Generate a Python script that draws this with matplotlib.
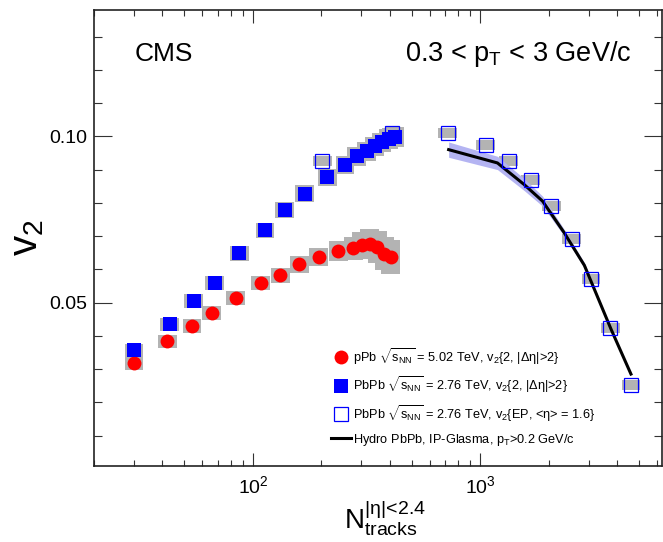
import numpy as np
import matplotlib
matplotlib.use('Agg')
import matplotlib.pyplot as plt
from matplotlib.ticker import FixedLocator, MultipleLocator, LogLocator, NullFormatter

plt.rcParams['font.family'] = ['Liberation Sans', 'DejaVu Sans']
plt.rcParams['mathtext.fontset'] = 'custom'
plt.rcParams['mathtext.rm'] = 'Liberation Sans'
plt.rcParams['mathtext.it'] = 'Liberation Sans'
plt.rcParams['mathtext.bf'] = 'Liberation Sans:bold'
plt.rcParams['mathtext.sf'] = 'Liberation Sans'

# pPb 5.02 TeV, v2{2,|deta|>2}
ppb_n = [30, 42, 54, 66, 84, 108, 132, 160, 195, 237, 276, 301, 327, 353, 378, 404]
ppb_v2 = [0.0318, 0.0383, 0.0430, 0.0469, 0.0513, 0.0559, 0.0582, 0.0615,
          0.0637, 0.0655, 0.0663, 0.0673, 0.0677, 0.0667, 0.0647, 0.0637]
ppb_sys = [0.0020, 0.0020, 0.0020, 0.0020, 0.0021, 0.0022, 0.0023, 0.0025,
           0.0027, 0.0030, 0.0035, 0.0040, 0.0045, 0.0048, 0.0050, 0.0050]

# PbPb 2.76 TeV, v2{2,|deta|>2}
pbpb_n = [30, 43, 55, 68, 87, 113, 138, 169, 212, 254, 286, 317, 344, 369, 395, 422]
pbpb_v2 = [0.0358, 0.0435, 0.0505, 0.0560, 0.0648, 0.0717, 0.0778, 0.0828,
           0.0877, 0.0915, 0.0940, 0.0955, 0.0970, 0.0982, 0.0992, 0.0998]
pbpb_sys = [0.0018, 0.0019, 0.0020, 0.0021, 0.0022, 0.0023, 0.0024, 0.0025,
            0.0026, 0.0027, 0.0028, 0.0028, 0.0029, 0.0029, 0.0030, 0.0030]

# PbPb 2.76 TeV, v2{EP}
ep_n = [202, 408, 719, 1055, 1336, 1666, 2056, 2527, 3067, 3730, 4603]
ep_v2 = [0.0927, 0.1010, 0.1010, 0.0975, 0.0927, 0.0868, 0.0790, 0.0690,
         0.0572, 0.0425, 0.0253]
ep_sys = [0.0015] * 11

# hydro IP-Glasma
hydro_n = [726, 1190, 1560, 1880, 2340, 2870, 3760, 4600]
hydro_v2 = [0.0960, 0.0920, 0.0855, 0.0805, 0.0710, 0.0612, 0.0420, 0.0285]
hydro_err = [0.0023, 0.0020, 0.0018, 0.0015, 0.0010, 0.0008, 0.0004, 0.0003]

gray = '#b3b3b3'
bw = 1.10  # half width of syst. boxes (log factor)


def sys_boxes(ax, n, v, s):
    n = np.array(n, dtype=float)
    v = np.array(v)
    s = np.array(s)
    ax.bar(n / bw, 2 * s, width=n * bw - n / bw, bottom=v - s, align='edge',
           color=gray, linewidth=0, zorder=1)


fig = plt.figure(figsize=(6.63, 5.42), dpi=100)
ax = fig.add_axes([94 / 663., 1 - 465.5 / 542., 568 / 663., 455.5 / 542.])

sys_boxes(ax, ppb_n, ppb_v2, ppb_sys)
sys_boxes(ax, pbpb_n, pbpb_v2, pbpb_sys)
sys_boxes(ax, ep_n, ep_v2, ep_sys)

hn = np.array(hydro_n)
hv = np.array(hydro_v2)
he = np.array(hydro_err)
ax.fill_between(hn, hv - he, hv + he, color='#b4b4f2', linewidth=0, zorder=2)
l_hydro, = ax.plot(hn, hv, color='black', lw=2.2, zorder=3)

l_ppb, = ax.plot(ppb_n, ppb_v2, 'o', color='#ff0000', ms=10, mew=0, ls='none', zorder=4)
l_pbpb, = ax.plot(pbpb_n, pbpb_v2, 's', color='#0000ff', ms=9.5, mew=0, ls='none', zorder=4)
l_ep, = ax.plot(ep_n, ep_v2, 's', mfc='none', mec='#0000ff', ms=10, mew=0.9, ls='none', zorder=5)

ax.set_xscale('log')
ax.set_xlim(20, 6300)
ax.set_ylim(0.001, 0.138)

ax.xaxis.set_major_locator(FixedLocator([100, 1000]))
ax.xaxis.set_minor_locator(LogLocator(base=10, subs=np.arange(2, 10)))
ax.xaxis.set_minor_formatter(NullFormatter())
ax.yaxis.set_major_locator(FixedLocator([0.05, 0.10]))
ax.set_yticklabels(['0.05', '0.10'])
ax.yaxis.set_minor_locator(MultipleLocator(0.01))

ax.tick_params(which='both', direction='in', top=True, right=True, width=0.8, color='#333333')
ax.tick_params(axis='x', which='major', length=9.5, pad=7, labelsize=14)
ax.tick_params(axis='x', which='minor', length=4.5)
ax.tick_params(axis='y', which='major', length=12.7, pad=4.5, labelsize=14)
ax.tick_params(axis='y', which='minor', length=6)
for sp in ax.spines.values():
    sp.set_linewidth(1.2)
    sp.set_color('#222222')

fig.text(135 / 663., 1 - 61 / 542., 'CMS', fontsize=19, ha='left', va='baseline')
fig.text(631 / 663., 1 - 61 / 542., r'0.3 < p$_{\rm T}$ < 3 GeV/c', fontsize=19.5,
         ha='right', va='baseline')
fig.text(27 / 663., 1 - 238 / 542., r'v$_{2}$', fontsize=29, rotation=90,
         ha='center', va='center')
fig.text(385 / 663., 1 - 529 / 542., r'N$^{|\eta|\!<\!2.4}_{\rm tracks}$', fontsize=20,
         ha='center', va='baseline')

labels = [r'pPb $\sqrt{s_{\rm NN}}$ = 5.02 TeV, v$_{2}${2, |$\Delta\eta$|>2}',
          r'PbPb $\sqrt{s_{\rm NN}}$ = 2.76 TeV, v$_{2}${2, |$\Delta\eta$|>2}',
          r'PbPb $\sqrt{s_{\rm NN}}$ = 2.76 TeV, v$_{2}${EP, <$\eta$> = 1.6}',
          r'Hydro PbPb, IP-Glasma, p$_{\rm T}$>0.2 GeV/c']
fig.legend([l_ppb, l_pbpb, l_ep, l_hydro], labels, loc='upper left',
           bbox_to_anchor=(331 / 663., 1 - 346 / 542.), frameon=False,
           fontsize=9.2, handlelength=1.6, handletextpad=0.15, labelspacing=0.62,
           borderpad=0, borderaxespad=0)

fig.savefig('out.png', dpi=100)
